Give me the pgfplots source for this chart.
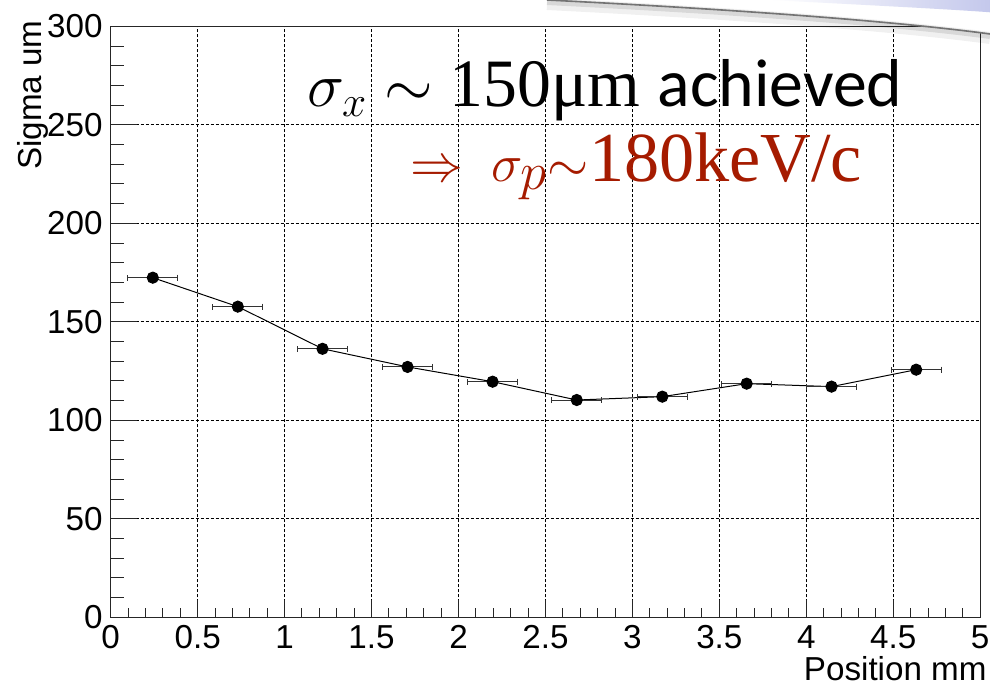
\documentclass[border=0pt]{standalone}
\usepackage{pgfplots}
\pgfplotsset{compat=1.18}
\usepackage{fontspec}
\setmainfont{Liberation Sans}
\newfontfamily\calibri{Carlito}
\newfontfamily\serifx{Liberation Serif}
\definecolor{ann}{RGB}{165,27,0}
\definecolor{lav}{RGB}{196,200,236}

\pgfplotstableread{
x      y      ex     ey
0.242  172.4  0.145  2.0
0.731  157.7  0.143  1.5
1.218  136.3  0.143  1.5
1.707  127.1  0.143  1.5
2.196  119.6  0.143  1.5
2.680  110.3  0.143  1.5
3.172  112.0  0.143  1.5
3.657  118.6  0.143  1.5
4.145  117.1  0.143  1.5
4.632  125.7  0.143  1.5
}\datatable

\begin{document}
\begin{tikzpicture}[x=1pt,y=1pt]
\begin{axis}[
  at={(0,0)}, anchor=south west,
  scale only axis, width=434.75pt, height=295.5pt,
  xmin=0, xmax=5, ymin=0, ymax=300,
  xtick={0,0.5,...,5}, ytick={0,50,...,300},
  minor x tick num=4, minor y tick num=4,
  tick pos=left, tick align=inside,
  major tick length=8.5pt, minor tick length=4.5pt,
  grid=major,
  major grid style={black, line width=0.5pt, dash pattern=on 1.5pt off 1pt},
  axis line style={line width=0.6pt, black!85},
  every tick/.style={black!85, line width=0.5pt},
  /pgf/number format/assume math mode=true,
  tick label style={font=\fontsize{16.6}{20}\selectfont},
  xticklabel style={anchor=base, inner sep=0pt, yshift=-15.5pt},
  yticklabel style={anchor=east, inner sep=0pt, xshift=-3.85pt},
  xlabel={Position mm},
  xlabel style={at={(axis description cs:1.0078,-0.1061)}, anchor=base east, inner sep=0pt, font=\fontsize{16.6}{20}\selectfont},
  ylabel={Sigma um},
  ylabel style={at={(axis description cs:-0.0794,1.0107)}, anchor=base east, inner sep=0pt, font=\fontsize{16.6}{20}\selectfont},
]
\pgfplotsinvokeforeach{0,10,...,300}{\draw[black!85, line width=0.5pt] (axis cs:0,#1) -- ++(6.5pt,0);}
\pgfplotsinvokeforeach{0,50,...,300}{\draw[black!85, line width=0.5pt] (axis cs:0,#1) -- ++(13pt,0);}
\addplot[black, line width=0.5pt, mark=*, mark size=2.8pt,
  mark options={fill=black, solid},
  error bars/.cd, x dir=both, x explicit, y dir=both, y explicit,
  error mark=|,
  error bar style={black!80, line width=0.5pt},
  error mark options={black!80, mark size=1.5pt, line width=0.5pt}]
  table[x=x, y=y, x error=ex, y error=ey] {\datatable};
\end{axis}
\node[anchor=base west, inner sep=0pt] at (98.15,255.3)
  {\resizebox{297.5pt}{!}{\fontsize{27}{30}\selectfont\serifx $\sigma_x$ $\sim$ 150μm {\calibri achieved}}};
\node[anchor=base west, inner sep=0pt, text=ann] at (149.65,217.8)
  {\resizebox{225.85pt}{!}{\fontsize{33}{36}\selectfont\serifx $\Rightarrow\mkern4.5mu\sigma_p{\sim}$180keV/c}};
% slide shadow in the top right corner (pixel -> pt: X=(px-110.7)/2, Y=(617.3-py)/2)
\fill[white] (218.15,308.65) .. controls (330,303) and (400,297) .. (439.65,291.65) -- (439.65,308.65) -- cycle;
\shade[left color=white, right color=lav] (330,308.65) .. controls (380,306) and (420,304) .. (439.65,302.5) -- (439.65,308.65) -- cycle;
\draw[black, opacity=0.06, line width=6pt] (218.15,306.65) .. controls (330,301) and (400,295) .. (439.65,289.65);
\draw[black, opacity=0.10, line width=3pt] (218.15,307.65) .. controls (330,302) and (400,296) .. (439.65,290.65);
\draw[black!55, line width=0.8pt] (218.15,308.65) .. controls (330,303) and (400,297) .. (439.65,291.65);
\pgfresetboundingbox
\path[use as bounding box] (-55.35,-34.85) rectangle (439.65,308.65);
\end{tikzpicture}
\end{document}
